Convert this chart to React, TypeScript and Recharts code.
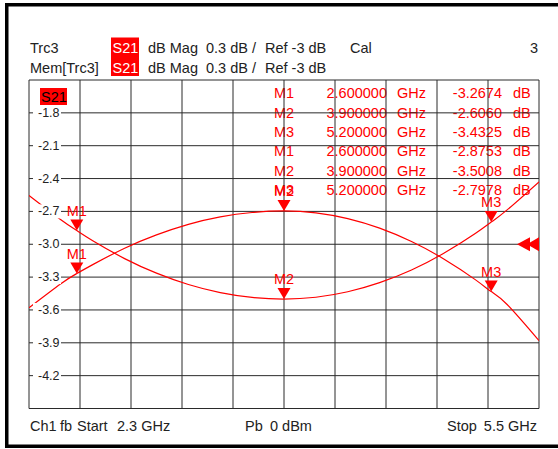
import React from 'react';
import { LineChart, Line, XAxis, YAxis, CartesianGrid, ReferenceDot } from 'recharts';

// ---- data ----
const freqGHz = [2.3, 2.5, 2.6, 2.7, 2.9, 3.1, 3.3, 3.5, 3.7, 3.9, 4.1, 4.3, 4.5, 4.7, 4.9, 5.1, 5.2, 5.3, 5.5];
const trc3Db = [-3.58, -3.36, -3.2674, -3.186, -3.036, -2.914, -2.818, -2.75, -2.71, -2.696, -2.713, -2.766, -2.853, -2.975, -3.132, -3.323, -3.4325, -3.55, -3.88];
const memDb = [-2.554, -2.776, -2.8753, -2.968, -3.131, -3.264, -3.368, -3.442, -3.486, -3.5008, -3.484, -3.434, -3.351, -3.235, -3.085, -2.902, -2.7978, -2.686, -2.43];

const xDomain = [2.3, 5.5];
const yDomain = [-4.5, -1.5];
const xTicks = [2.3, 2.62, 2.94, 3.26, 3.58, 3.9, 4.22, 4.54, 4.86, 5.18, 5.5];
const yTicks = [-4.5, -4.2, -3.9, -3.6, -3.3, -3.0, -2.7, -2.4, -2.1, -1.8, -1.5];
const refLevel = -3.0;

const markerNames = ['M1', 'M2', 'M3'];
const markerFreqs = [2.6, 3.9, 5.2];
const markerFreqText = ['2.600000', '3.900000', '5.200000'];
const trcMarkerText = ['-3.2674', '-2.6060', '-3.4325'];
const memMarkerText = ['-2.8753', '-3.5008', '-2.7978'];

const data = freqGHz.map((f, i) => ({ f, trc: trc3Db[i], mem: memDb[i] }));
const valAt = (arr: number[], f: number) => arr[freqGHz.indexOf(f)];

// ---- layout ----
const W = 558;
const H = 449;
const PL = 29;
const PT = 80;
const PR = 539;
const PB = 408.5;
const FONT = '"Liberation Sans", Arial, Helvetica, sans-serif';
const RED = '#ff0000';
const INK = '#222';
const FS = 14.5;

const scaleOf = (axis: any, t: number, d: number[], start: number, len: number, invert: boolean) => {
  if (axis && typeof axis.scale === 'function') return axis.scale(t);
  const r = (t - d[0]) / (d[1] - d[0]);
  return invert ? start + len * (1 - r) : start + len * r;
};

const YTick = (props: any) => {
  const { y, payload } = props;
  const v = payload.value as number;
  if (v <= -4.49 || v >= -1.51) return <g />;
  return (
    <g>
      <rect x={PL + 4} y={y - 7} width={28} height={14} fill="#fff" />
      <text x={PL + 9} y={y} dominantBaseline="central" textAnchor="start" fontSize={12.5} fill={INK} fontFamily={FONT}>
        {v.toFixed(1)}
      </text>
    </g>
  );
};

const MarkerShape = (props: any) => {
  const { cx, cy, name } = props;
  if (cx == null || cy == null) return <g />;
  return (
    <g>
      <polygon points={`${cx - 6.5},${cy - 11} ${cx + 6.5},${cy - 11} ${cx},${cy}`} fill={RED} />
      <text x={cx} y={cy - 20} textAnchor="middle" dominantBaseline="central" fontSize={FS} fill={RED} fontFamily={FONT}>
        {name}
      </text>
    </g>
  );
};

const RefArrows = (props: any) => {
  const { cx, cy } = props;
  if (cx == null || cy == null) return <g />;
  return (
    <g>
      <polygon points={`${cx - 22},${cy} ${cx - 9},${cy - 7} ${cx - 9},${cy + 7}`} fill={RED} />
      <polygon points={`${cx - 12},${cy} ${cx},${cy - 7} ${cx},${cy + 7}`} fill={RED} />
    </g>
  );
};

const T = (p: { x: number; y: number; children: React.ReactNode; fill?: string; anchor?: 'start' | 'end' | 'middle'; size?: number }) => (
  <text
    x={p.x}
    y={p.y}
    textAnchor={p.anchor || 'start'}
    dominantBaseline="central"
    fontSize={p.size || FS}
    fill={p.fill || INK}
    fontFamily={FONT}
    style={{ whiteSpace: 'pre' }}
  >
    {p.children}
  </text>
);

const rowY = [93.3, 112.8, 132.3, 151.3, 170.5, 189.5];

const Background = () => (
  <svg width={W} height={H} style={{ position: 'absolute', left: 0, top: 0 }}>
    <rect x={0} y={0} width={W} height={H} fill="#fff" />
    {/* frame */}
    <rect x={5} y={3} width={W - 5} height={3.5} fill="#000" />
    <rect x={5} y={3} width={3.5} height={445} fill="#000" />
    <rect x={5} y={444.5} width={W - 5} height={3.5} fill="#000" />
    {/* header */}
    <rect x={111} y={37.5} width={28} height={38.5} fill={RED} />
    <T x={30} y={48}>Trc3</T>
    <T x={112.5} y={48} fill="#fff">S21</T>
    <T x={148} y={48}>dB Mag</T>
    <T x={206} y={48}>0.3 dB /</T>
    <T x={265} y={48}>Ref -3 dB</T>
    <T x={350} y={48}>Cal</T>
    <T x={530} y={48}>3</T>
    <T x={30} y={68}>Mem[Trc3]</T>
    <T x={112.5} y={68} fill="#fff">S21</T>
    <T x={148} y={68}>dB Mag</T>
    <T x={206} y={68}>0.3 dB /</T>
    <T x={265} y={68}>Ref -3 dB</T>
    {/* trace label inside plot */}
    <rect x={40} y={88} width={27} height={17} fill={RED} />
    <T x={41} y={96.5} fill="#000">S21</T>
    {/* marker table */}
    {[...markerNames.map((m, i) => ({ m, f: markerFreqText[i], v: trcMarkerText[i] })),
      ...markerNames.map((m, i) => ({ m, f: markerFreqText[i], v: memMarkerText[i] }))].map((r, k) => (
      <g key={k}>
        <T x={274} y={rowY[k]} fill={RED}>{r.m}</T>
        <T x={387} y={rowY[k]} fill={RED} anchor="end">{r.f}</T>
        <T x={397} y={rowY[k]} fill={RED}>GHz</T>
        <T x={502} y={rowY[k]} fill={RED} anchor="end">{r.v}</T>
        <T x={513} y={rowY[k]} fill={RED}>dB</T>
      </g>
    ))}
    {/* footer */}
    <T x={30} y={426}>Ch1</T>
    <T x={60} y={426}>fb</T>
    <T x={77} y={426}>Start</T>
    <T x={117} y={426}>2.3 GHz</T>
    <T x={245} y={426}>Pb</T>
    <T x={270} y={426}>0 dBm</T>
    <T x={447} y={426}>Stop</T>
    <T x={537} y={426} anchor="end">5.5 GHz</T>
  </svg>
);

export default function App() {
  return (
    <div style={{ position: 'absolute', left: 0, top: 0, width: W, height: H, background: '#fff' }}>
      <Background />
      <div style={{ position: 'absolute', left: 0, top: 0 }}>
        <LineChart width={W} height={H} data={data} margin={{ top: PT, right: W - PR, bottom: H - PB - 1, left: PL - 1 }}>
          <CartesianGrid
            stroke="#2a2a2a"
            strokeWidth={1}
            verticalCoordinatesGenerator={({ xAxis, offset }: any) =>
              xTicks.map((t) => scaleOf(xAxis, t, xDomain, offset.left, offset.width, false))
            }
            horizontalCoordinatesGenerator={({ yAxis, offset }: any) =>
              yTicks.map((t) => scaleOf(yAxis, t, yDomain, offset.top, offset.height, true))
            }
          />
          <XAxis
            type="number"
            dataKey="f"
            domain={xDomain}
            ticks={xTicks}
            tick={() => <g />}
            axisLine={false}
            tickLine={false}
            height={1}
            allowDataOverflow
          />
          <YAxis
            type="number"
            domain={yDomain}
            ticks={yTicks}
            tick={(p: any) => <YTick {...p} />}
            axisLine={false}
            tickLine={false}
            width={1}
            interval={0}
            allowDataOverflow
          />
          <Line type="natural" dataKey="trc" stroke={RED} strokeWidth={1.2} dot={false} activeDot={false} isAnimationActive={false} />
          <Line type="natural" dataKey="mem" stroke={RED} strokeWidth={1.2} dot={false} activeDot={false} isAnimationActive={false} />
          {markerFreqs.map((f, i) => (
            <ReferenceDot
              key={'t' + i}
              x={f}
              y={valAt(trc3Db, f)}
              ifOverflow="visible"
              shape={(p: any) => <MarkerShape {...p} name={markerNames[i]} />}
            />
          ))}
          {markerFreqs.map((f, i) => (
            <ReferenceDot
              key={'m' + i}
              x={f}
              y={valAt(memDb, f)}
              ifOverflow="visible"
              shape={(p: any) => <MarkerShape {...p} name={markerNames[i]} />}
            />
          ))}
          <ReferenceDot x={5.5} y={refLevel} ifOverflow="visible" shape={(p: any) => <RefArrows {...p} />} />
        </LineChart>
      </div>
    </div>
  );
}
